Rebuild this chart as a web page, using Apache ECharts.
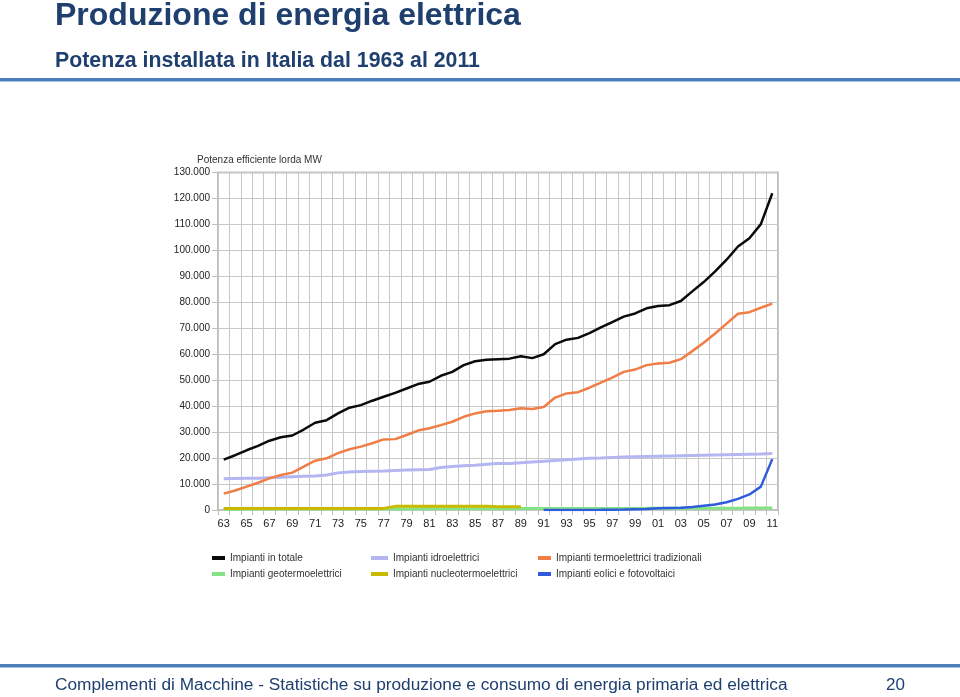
<!DOCTYPE html>
<html>
<head>
<meta charset="utf-8">
<script src="https://cdn.jsdelivr.net/npm/echarts@6/dist/echarts.min.js"></script>
<style>
html,body{margin:0;padding:0;background:#fff;}
#c{width:960px;height:697px;}
</style>
</head>
<body>
<div id="c"></div>
<script>
const years = ['63','64','65','66','67','68','69','70','71','72','73','74','75','76','77','78','79','80','81','82','83','84','85','86','87','88','89','90','91','92','93','94','95','96','97','98','99','00','01','02','03','04','05','06','07','08','09','10','11'];

const totale = [19400,21100,23000,24700,26700,28000,28700,31000,33600,34600,
37200,39400,40400,42100,43600,45100,46800,48500,49400,51700,
53200,55800,57300,57900,58100,58300,59200,58500,60000,63900,
65600,66300,68100,70300,72400,74500,75700,77700,78600,78900,
80500,84200,87800,91900,96400,101500,104700,110100,122000];

const idro = [12000,12100,12200,12200,12400,12600,12800,13000,13100,13500,
14300,14600,14800,14900,15000,15200,15400,15500,15600,16400,
16800,17000,17200,17600,17900,17900,18200,18500,18800,19100,
19400,19600,19900,20000,20200,20400,20500,20600,20700,20800,
20900,21000,21100,21200,21300,21400,21500,21600,21800];

const termo = [6300,7500,9000,10500,12200,13500,14400,16700,19000,19900,
21900,23400,24400,25700,27200,27300,28900,30600,31500,32700,
34000,35900,37200,38000,38200,38500,39200,38900,39700,43300,
44900,45400,47100,49100,51000,53200,54100,55800,56400,56700,
58100,61200,64400,68000,71800,75600,76200,77900,79500];

const geo = [330,330,340,340,350,350,360,360,370,370,
380,390,400,410,420,420,430,440,440,450,
460,470,480,500,510,520,530,545,550,560,
570,580,590,600,610,620,625,630,650,680,
700,710,710,710,720,720,740,770,780];

const nucleo = [550,620,620,620,620,620,620,620,620,620,
620,620,620,620,620,1400,1400,1400,1400,1400,
1400,1400,1400,1400,1300,1300,1300,null,null,null,
null,null,null,null,null,null,null,null,null,null,
null,null,null,null,null,null,null,null,null];

const eolici = [null,null,null,null,null,null,null,null,null,null,
null,null,null,null,null,null,null,null,null,null,
null,null,null,null,null,null,null,null,10,10,
20,20,30,70,120,190,280,370,680,780,
880,1150,1650,2100,3000,4300,6000,9000,19600];

const seriesNames = ['Impianti in totale','Impianti idroelettrici','Impianti termoelettrici tradizionali','Impianti geotermoelettrici','Impianti nucleotermoelettrici','Impianti eolici e fotovoltaici'];
const seriesData = [totale, idro, termo, geo, nucleo, eolici];
const seriesColors = ['#0a0a0a','#b4b6f2','#ef7d45','#84e384','#c9b900','#2e5cdc'];
const seriesWidths = [2.5,3,2.5,3,3,2.5];

const FONT = '"Liberation Sans", Arial, Helvetica, sans-serif';
const chart = echarts.init(document.getElementById('c'));

function fmt(v){ return String(v).replace(/\B(?=(\d{3})+(?!\d))/g, '.'); }

const legendPos = [
  {left:212, top:553, w:13},
  {left:371, top:553, w:17},
  {left:538, top:553, w:13},
  {left:212, top:569, w:13},
  {left:371, top:569, w:17},
  {left:538, top:569, w:13}
];

const option = {
  animation: false,
  backgroundColor: '#fff',
  textStyle: {fontFamily: FONT},
  grid: {left:218, right:182, top:172.5, bottom:187, show:true, borderColor:'#bdbdbd', borderWidth:2, backgroundColor:'transparent'},
  xAxis: {
    type:'category', data: years, boundaryGap:true,
    axisLine:{show:false},
    axisTick:{show:true, interval:0, length:5, lineStyle:{color:'#bdbdbd'}},
    axisLabel:{interval:1, fontSize:11, color:'#222', margin:8, fontFamily:FONT},
    splitLine:{show:true, interval:0, lineStyle:{color:'#c8c8c8', width:1}}
  },
  yAxis: {
    type:'value', min:0, max:130000, interval:10000,
    axisLine:{show:false},
    axisTick:{show:true, length:6, lineStyle:{color:'#bdbdbd'}},
    axisLabel:{fontSize:10, color:'#222', margin:8, formatter: fmt, fontFamily:FONT},
    splitLine:{show:true, lineStyle:{color:'#c8c8c8', width:1}}
  },
  legend: seriesNames.map((n,i)=>({
    data:[n], left:legendPos[i].left, top:legendPos[i].top, padding:0,
    icon:'rect', itemWidth:legendPos[i].w, itemHeight:4,
    textStyle:{fontSize:10, color:'#333', fontFamily:FONT}
  })),
  series: seriesNames.map((n,i)=>({
    name:n, type:'line', data:seriesData[i], showSymbol:false, symbol:'none',
    connectNulls:false,
    lineStyle:{color:seriesColors[i], width:seriesWidths[i]},
    itemStyle:{color:seriesColors[i]}
  })),
  graphic: [
    {type:'text', x:55, y:16, style:{text:'Produzione di energia elettrica', font:'bold 32px '+FONT, fill:'#1f3f6f', align:'left', verticalAlign:'middle'}},
    {type:'text', x:55, y:61.5, style:{text:'Potenza installata in Italia dal 1963 al 2011', font:'bold 21.3px '+FONT, fill:'#1f3f6f', align:'left', verticalAlign:'middle'}},
    {type:'rect', shape:{x:0, y:78, width:960, height:3}, style:{fill:'#4a7ebb'}},
    {type:'rect', shape:{x:0, y:81, width:960, height:1}, style:{fill:'#a9c0e0'}},
    {type:'text', x:197, y:160, style:{text:'Potenza efficiente lorda MW', font:'10px '+FONT, fill:'#333', align:'left', verticalAlign:'middle'}},
    {type:'rect', shape:{x:0, y:664, width:960, height:3}, style:{fill:'#4a7ebb'}},
    {type:'rect', shape:{x:0, y:667, width:960, height:1}, style:{fill:'#a9c0e0'}},
    {type:'text', x:55, y:685, style:{text:'Complementi di Macchine - Statistiche su produzione e consumo di energia primaria ed elettrica', font:'17.25px '+FONT, fill:'#1f3f6f', align:'left', verticalAlign:'middle'}},
    {type:'text', x:905, y:685, style:{text:'20', font:'17px '+FONT, fill:'#1f3f6f', align:'right', verticalAlign:'middle'}}
  ]
};
chart.setOption(option);
</script>
</body>
</html>
